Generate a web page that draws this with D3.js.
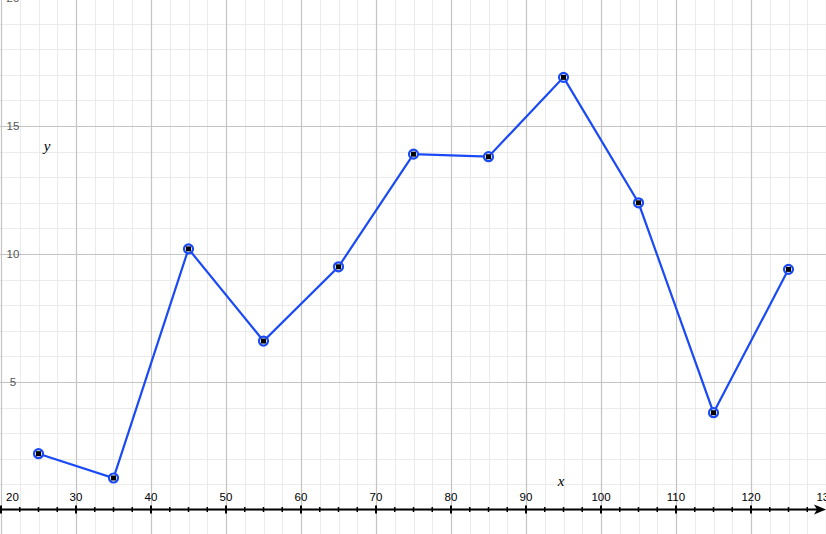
<!DOCTYPE html>
<html>
<head>
<meta charset="utf-8">
<script src="https://cdn.jsdelivr.net/npm/d3@7"></script>
<style>
  html, body { margin: 0; padding: 0; background: #fff; }
  svg { display: block; }
</style>
</head>
<body>
<svg id="chart" width="826" height="534"></svg>
<script>
// ---- data ----
const xValues = [25, 35, 45, 55, 65, 75, 85, 95, 105, 115, 125];
const yValues = [2.2, 1.25, 10.2, 6.6, 9.5, 13.9, 13.8, 16.9, 12.0, 3.8, 9.4];
const xTickLabels = [20, 30, 40, 50, 60, 70, 80, 90, 100, 110, 120, 130];
const yTickLabels = [5, 10, 15, 20];
const xLabel = "x";
const yLabel = "y";

const W = 826, H = 534;
const svg = d3.select("#chart");

const x = d3.scaleLinear().domain([20, 130]).range([1, 826]);
const y = d3.scaleLinear().domain([0, 20]).range([510, -2]);

// minor grid
const xMinor = d3.range(20, 130.01, 2.5);
const yMinor = d3.range(-1, 21, 1);
const grid = svg.append("g");
grid.selectAll(".vminor").data(xMinor).enter().append("line")
  .attr("x1", d => Math.round(x(d)) + 0.5).attr("x2", d => Math.round(x(d)) + 0.5)
  .attr("y1", 0).attr("y2", H)
  .attr("stroke", "#ebebeb").attr("stroke-width", 1);
grid.selectAll(".hminor").data(yMinor).enter().append("line")
  .attr("y1", d => Math.round(y(d)) + 0.5).attr("y2", d => Math.round(y(d)) + 0.5)
  .attr("x1", 0).attr("x2", W)
  .attr("stroke", "#ebebeb").attr("stroke-width", 1);
// major grid
grid.selectAll(".vmajor").data(xTickLabels).enter().append("line")
  .attr("x1", d => Math.round(x(d)) + 0.5).attr("x2", d => Math.round(x(d)) + 0.5)
  .attr("y1", 0).attr("y2", H)
  .attr("stroke", "#c4c4c4").attr("stroke-width", 1.2);
grid.selectAll(".hmajor").data(yTickLabels).enter().append("line")
  .attr("y1", d => Math.round(y(d)) + 0.5).attr("y2", d => Math.round(y(d)) + 0.5)
  .attr("x1", 0).attr("x2", W)
  .attr("stroke", "#c4c4c4").attr("stroke-width", 1.2);

// x axis line with ticks
const ax = svg.append("g");
const y0 = Math.round(y(0)) - 0.5;
ax.append("line").attr("x1", 0).attr("x2", W - 4).attr("y1", y0).attr("y2", y0)
  .attr("stroke", "#000").attr("stroke-width", 2);
ax.append("path")
  .attr("d", `M${W - 12},${y0 - 5} L${W},${y0} L${W - 12},${y0 + 5} L${W - 9},${y0} Z`)
  .attr("fill", "#000");
ax.selectAll(".tminor").data(xMinor.filter(d => d % 10 !== 0 && x(d) < W - 12)).enter().append("line")
  .attr("x1", d => x(d)).attr("x2", d => x(d))
  .attr("y1", y0 - 2.5).attr("y2", y0 + 2.5)
  .attr("stroke", "#000").attr("stroke-width", 1.5);
ax.selectAll(".tmajor").data(xTickLabels.filter(d => x(d) < W - 12)).enter().append("line")
  .attr("x1", d => x(d)).attr("x2", d => x(d))
  .attr("y1", y0 - 4).attr("y2", y0 + 4)
  .attr("stroke", "#000").attr("stroke-width", 2);

// x tick labels
ax.selectAll(".xl").data(xTickLabels).enter().append("text")
  .attr("x", d => Math.max(x(d), 12.5)).attr("y", 501)
  .attr("text-anchor", "middle")
  .attr("font-family", "'Liberation Sans', Arial, sans-serif")
  .attr("font-size", 11.5).attr("fill", "#000")
  .text(d => d);

// y tick labels
svg.selectAll(".yl").data(yTickLabels).enter().append("text")
  .attr("x", 13).attr("y", d => y(d) + 4)
  .attr("text-anchor", "middle")
  .attr("font-family", "'Liberation Sans', Arial, sans-serif")
  .attr("font-size", 11.5).attr("fill", "#555")
  .text(d => d);

// axis name labels
svg.append("text").attr("x", 561).attr("y", 486).attr("text-anchor", "middle")
  .attr("font-family", "'Liberation Serif', 'DejaVu Serif', serif")
  .attr("font-style", "italic").attr("font-size", 15).attr("fill", "#000").text(xLabel);
svg.append("text").attr("x", 47).attr("y", 151).attr("text-anchor", "middle")
  .attr("font-family", "'Liberation Serif', 'DejaVu Serif', serif")
  .attr("font-style", "italic").attr("font-size", 15).attr("fill", "#000").text(yLabel);

// data line
const pts = xValues.map((d, i) => [d, yValues[i]]);
svg.append("path").datum(pts)
  .attr("d", d3.line().x(d => x(d[0])).y(d => y(d[1])))
  .attr("fill", "none").attr("stroke", "#1a4af5").attr("stroke-width", 2.2);

// markers
const m = svg.selectAll(".mk").data(pts).enter().append("g")
  .attr("transform", d => `translate(${x(d[0])},${y(d[1])})`);
m.append("circle").attr("r", 4.5).attr("fill", "#fff")
  .attr("stroke", "#1a4af5").attr("stroke-width", 2.2);
m.append("rect").attr("x", -2.5).attr("y", -2.5).attr("width", 5).attr("height", 5)
  .attr("fill", "#000");
</script>
</body>
</html>
